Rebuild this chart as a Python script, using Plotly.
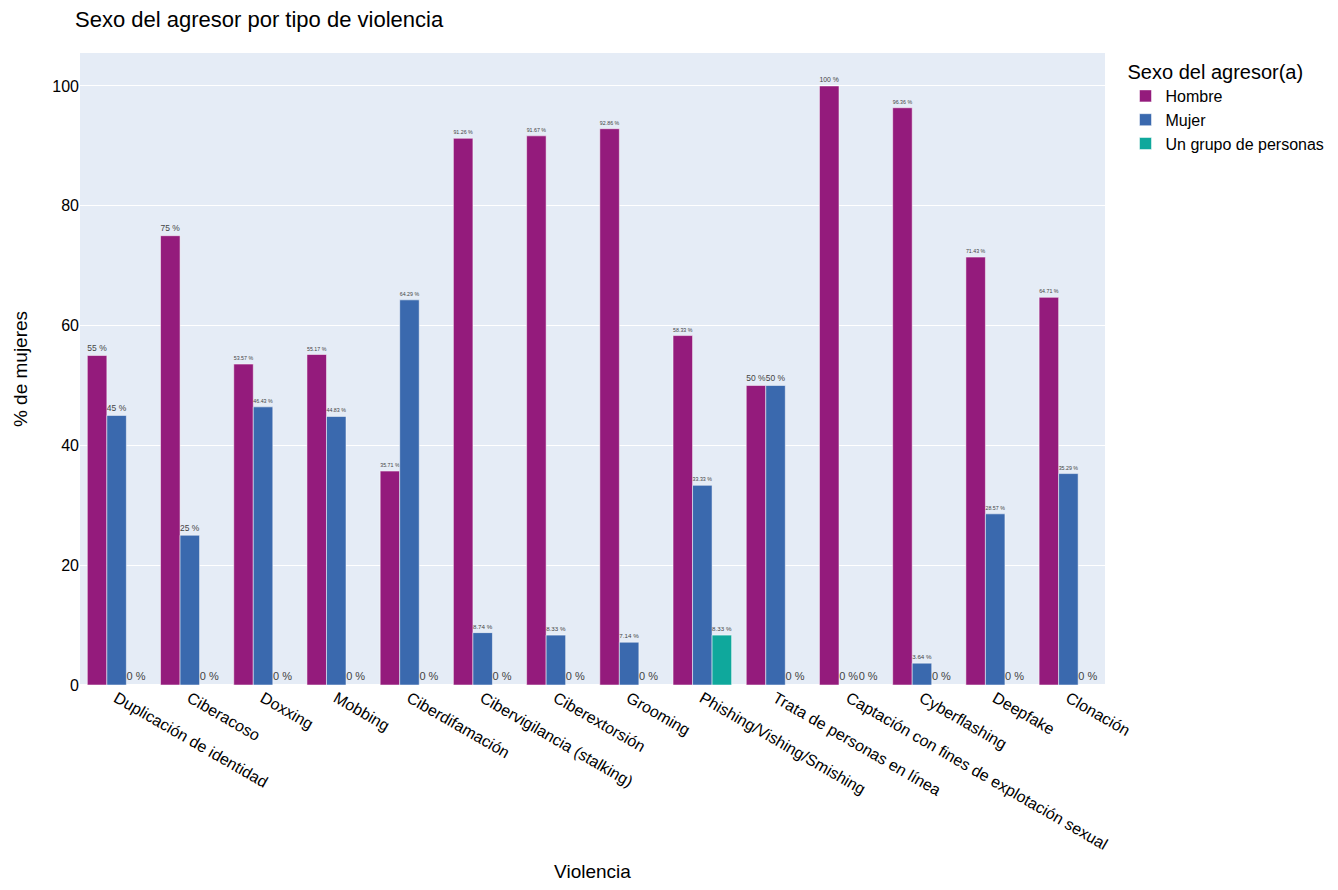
import plotly.graph_objects as go

categorias = ["Duplicación de identidad", "Ciberacoso", "Doxxing", "Mobbing", "Ciberdifamación",
              "Cibervigilancia (stalking)", "Ciberextorsión", "Grooming", "Phishing/Vishing/Smishing",
              "Trata de personas en línea", "Captación con fines de explotación sexual",
              "Cyberflashing", "Deepfake", "Clonación"]
hombre = [55, 75, 53.57, 55.17, 35.71, 91.26, 91.67, 92.86, 58.33, 50, 100, 96.36, 71.43, 64.71]
mujer = [45, 25, 46.43, 44.83, 64.29, 8.74, 8.33, 7.14, 33.33, 50, 0, 3.64, 28.57, 35.29]
grupo = [0, 0, 0, 0, 0, 0, 0, 0, 8.33, 0, 0, 0, 0, 0]

series = [("Hombre", hombre, "#941b7c"), ("Mujer", mujer, "#3a69ae"), ("Un grupo de personas", grupo, "#0fa89c")]

fig = go.Figure()
for name, vals, col in series:
    fig.add_trace(go.Bar(
        x=categorias, y=vals, name=name,
        marker=dict(color=col, line=dict(color="rgba(255,255,255,0.5)", width=1)),
        text=[f"{v:g} %" for v in vals], textposition="outside",
        textfont=dict(size=11, color="#444"),
        cliponaxis=False,
    ))

fig.update_layout(
    template="plotly",
    width=1322, height=874,
    barmode="group",
    font=dict(family="Liberation Sans, Arial, sans-serif", size=16, color="#000"),
    title=dict(text="Sexo del agresor por tipo de violencia", x=0.0507, y=0.9874, xref="container",
               xanchor="left", yanchor="middle", font=dict(size=22)),
    margin=dict(l=72, r=225, t=45, b=197, autoexpand=False),
    legend=dict(title=dict(text="Sexo del agresor(a)", font=dict(size=20)), x=1.02, y=1, xanchor="left", yanchor="top",
                font=dict(size=16)),
    xaxis=dict(title=dict(text="Violencia", font=dict(size=19), standoff=15), tickangle=30, tickfont=dict(size=16),
               automargin=False),
    yaxis=dict(title=dict(text="% de mujeres", font=dict(size=19), standoff=19), range=[0, 105.5],
               tickfont=dict(size=16), dtick=20, automargin=False),
)
fig.write_html("out.html")
